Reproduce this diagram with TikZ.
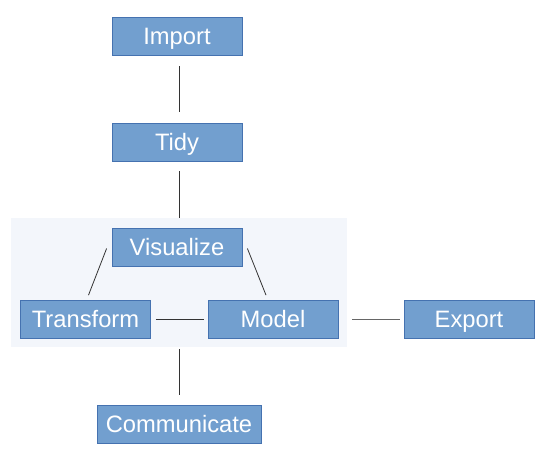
\documentclass[tikz,border=0pt]{standalone}
\usepackage{fontspec}
\setmainfont{Liberation Sans}
\usetikzlibrary{calc}

\definecolor{boxfill}{RGB}{114,159,207}
\definecolor{boxline}{RGB}{69,114,176}
\definecolor{panelfill}{RGB}{243,246,251}

\tikzset{
  stage/.style={draw=boxline, line width=0.6pt, fill=boxfill, text=white,
    minimum width=97.5pt, minimum height=28.5pt, inner sep=0pt,
    text height=12.7pt, text depth=0pt,
    font=\fontsize{17.8pt}{20pt}\selectfont},
  link/.style={draw=black!80, line width=0.6pt}
}

\begin{document}
\begin{tikzpicture}[x=0.75pt,y=0.75pt,yscale=-1,xscale=1]
\useasboundingbox (0,0) rectangle (541,454);

% panel behind the loop
\node (panel) [fill=panelfill, minimum width=252pt, minimum height=96.75pt, inner sep=0pt] at (179,282.5) {};

% stages
\node (import) [stage] at (177,36) {Import};
\node (tidy) [stage] at (177,142) {Tidy};
\node (viz) [stage] at (177,247.5) {Visualize};
\node (transform) [stage] at (85.5,319.5) {Transform};
\node (model) [stage] at (273,319.5) {Model};
\node (export) [stage] at (469,319.5) {Export};
\node (comm) [stage, minimum width=123pt] at (179,424) {Communicate};

% links
\draw [link, shorten <=8.25pt, shorten >=8.25pt] (import.south -| comm.north) -- (tidy.north -| comm.north);
\draw [link, shorten <=7.5pt] (tidy.south -| comm.north) -- (panel.north);
\draw [link] ($(viz.west)+(-5,1)$) -- ($(transform.north)+(3,-5)$);
\draw [link] ($(viz.east)+(5,1)$) -- ($(model.north)+(-7,-5)$);
\draw [link, shorten <=3.75pt, shorten >=3pt] (transform) -- (model);
\draw [link, draw=black!60, shorten <=10.5pt, shorten >=3pt] (model) -- (export);
\draw [link, shorten <=1.5pt, shorten >=7.5pt] (panel.south) -- (comm.north);

\end{tikzpicture}
\end{document}
